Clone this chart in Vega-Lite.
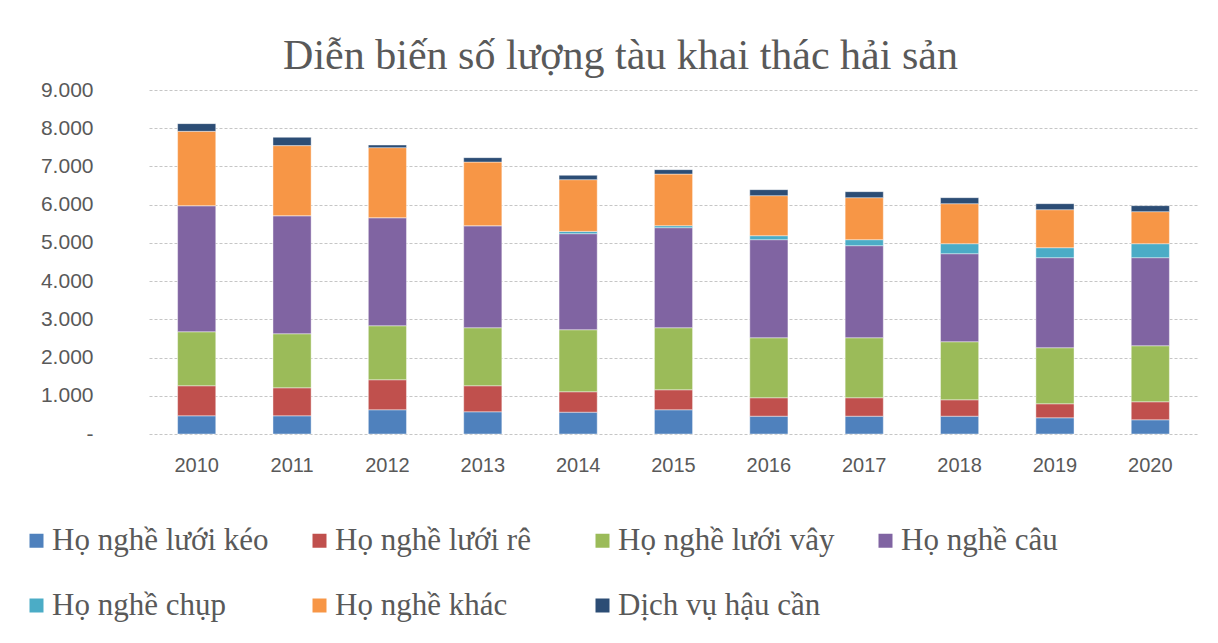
{
  "$schema": "https://vega.github.io/schema/vega-lite/v6.json",
  "width": 1049,
  "height": 344,
  "padding": {"left": 21, "top": 35, "right": 20, "bottom": 10},
  "background": "white",
  "title": {
    "text": "Diễn biến số lượng tàu khai thác hải sản",
    "font": "Liberation Serif",
    "fontSize": 42,
    "fontWeight": "normal",
    "color": "#595959",
    "anchor": "middle",
    "dx": -53,
    "offset": 1
  },
  "datasets": {
    "cats": [
      {"type": "Họ nghề lưới kéo", "rank": 1},
      {"type": "Họ nghề lưới rê", "rank": 2},
      {"type": "Họ nghề lưới vây", "rank": 3},
      {"type": "Họ nghề câu", "rank": 4},
      {"type": "Họ nghề chụp", "rank": 5},
      {"type": "Họ nghề khác", "rank": 6},
      {"type": "Dịch vụ hậu cần", "rank": 7}
    ],
    "tau": [
      {"year": "2010", "type": "Họ nghề lưới kéo", "value": 476},
      {"year": "2010", "type": "Họ nghề lưới rê", "value": 786},
      {"year": "2010", "type": "Họ nghề lưới vây", "value": 1413},
      {"year": "2010", "type": "Họ nghề câu", "value": 3299},
      {"year": "2010", "type": "Họ nghề chụp", "value": 0},
      {"year": "2010", "type": "Họ nghề khác", "value": 1945},
      {"year": "2010", "type": "Dịch vụ hậu cần", "value": 201},
      {"year": "2011", "type": "Họ nghề lưới kéo", "value": 476},
      {"year": "2011", "type": "Họ nghề lưới rê", "value": 733},
      {"year": "2011", "type": "Họ nghề lưới vây", "value": 1414},
      {"year": "2011", "type": "Họ nghề câu", "value": 3089},
      {"year": "2011", "type": "Họ nghề chụp", "value": 0},
      {"year": "2011", "type": "Họ nghề khác", "value": 1833},
      {"year": "2011", "type": "Dịch vụ hậu cần", "value": 217},
      {"year": "2012", "type": "Họ nghề lưới kéo", "value": 634},
      {"year": "2012", "type": "Họ nghề lưới rê", "value": 785},
      {"year": "2012", "type": "Họ nghề lưới vây", "value": 1413},
      {"year": "2012", "type": "Họ nghề câu", "value": 2828},
      {"year": "2012", "type": "Họ nghề chụp", "value": 0},
      {"year": "2012", "type": "Họ nghề khác", "value": 1832},
      {"year": "2012", "type": "Dịch vụ hậu cần", "value": 68},
      {"year": "2013", "type": "Họ nghề lưới kéo", "value": 581},
      {"year": "2013", "type": "Họ nghề lưới rê", "value": 681},
      {"year": "2013", "type": "Họ nghề lưới vây", "value": 1518},
      {"year": "2013", "type": "Họ nghề câu", "value": 2670},
      {"year": "2013", "type": "Họ nghề chụp", "value": 0},
      {"year": "2013", "type": "Họ nghề khác", "value": 1665},
      {"year": "2013", "type": "Dịch vụ hậu cần", "value": 115},
      {"year": "2014", "type": "Họ nghề lưới kéo", "value": 571},
      {"year": "2014", "type": "Họ nghề lưới rê", "value": 534},
      {"year": "2014", "type": "Họ nghề lưới vây", "value": 1623},
      {"year": "2014", "type": "Họ nghề câu", "value": 2513},
      {"year": "2014", "type": "Họ nghề chụp", "value": 60},
      {"year": "2014", "type": "Họ nghề khác", "value": 1353},
      {"year": "2014", "type": "Dịch vụ hậu cần", "value": 113},
      {"year": "2015", "type": "Họ nghề lưới kéo", "value": 634},
      {"year": "2015", "type": "Họ nghề lưới rê", "value": 523},
      {"year": "2015", "type": "Họ nghề lưới vây", "value": 1623},
      {"year": "2015", "type": "Họ nghề câu", "value": 2618},
      {"year": "2015", "type": "Họ nghề chụp", "value": 52},
      {"year": "2015", "type": "Họ nghề khác", "value": 1351},
      {"year": "2015", "type": "Dịch vụ hậu cần", "value": 115},
      {"year": "2016", "type": "Họ nghề lưới kéo", "value": 466},
      {"year": "2016", "type": "Họ nghề lưới rê", "value": 482},
      {"year": "2016", "type": "Họ nghề lưới vây", "value": 1570},
      {"year": "2016", "type": "Họ nghề câu", "value": 2566},
      {"year": "2016", "type": "Họ nghề chụp", "value": 104},
      {"year": "2016", "type": "Họ nghề khác", "value": 1048},
      {"year": "2016", "type": "Dịch vụ hậu cần", "value": 157},
      {"year": "2017", "type": "Họ nghề lưới kéo", "value": 466},
      {"year": "2017", "type": "Họ nghề lưới rê", "value": 482},
      {"year": "2017", "type": "Họ nghề lưới vây", "value": 1570},
      {"year": "2017", "type": "Họ nghề câu", "value": 2409},
      {"year": "2017", "type": "Họ nghề chụp", "value": 157},
      {"year": "2017", "type": "Họ nghề khác", "value": 1099},
      {"year": "2017", "type": "Dịch vụ hậu cần", "value": 157},
      {"year": "2018", "type": "Họ nghề lưới kéo", "value": 466},
      {"year": "2018", "type": "Họ nghề lưới rê", "value": 429},
      {"year": "2018", "type": "Họ nghề lưới vây", "value": 1519},
      {"year": "2018", "type": "Họ nghề câu", "value": 2303},
      {"year": "2018", "type": "Họ nghề chụp", "value": 262},
      {"year": "2018", "type": "Họ nghề khác", "value": 1047},
      {"year": "2018", "type": "Dịch vụ hậu cần", "value": 157},
      {"year": "2019", "type": "Họ nghề lưới kéo", "value": 424},
      {"year": "2019", "type": "Họ nghề lưới rê", "value": 367},
      {"year": "2019", "type": "Họ nghề lưới vây", "value": 1466},
      {"year": "2019", "type": "Họ nghề câu", "value": 2356},
      {"year": "2019", "type": "Họ nghề chụp", "value": 261},
      {"year": "2019", "type": "Họ nghề khác", "value": 995},
      {"year": "2019", "type": "Dịch vụ hậu cần", "value": 157},
      {"year": "2020", "type": "Họ nghề lưới kéo", "value": 372},
      {"year": "2020", "type": "Họ nghề lưới rê", "value": 471},
      {"year": "2020", "type": "Họ nghề lưới vây", "value": 1466},
      {"year": "2020", "type": "Họ nghề câu", "value": 2304},
      {"year": "2020", "type": "Họ nghề chụp", "value": 366},
      {"year": "2020", "type": "Họ nghề khác", "value": 838},
      {"year": "2020", "type": "Dịch vụ hậu cần", "value": 157}
    ]
  },
  "data": {"name": "tau"},
  "transform": [
    {"lookup": "type", "from": {"data": {"name": "cats"}, "key": "type", "fields": ["rank"]}}
  ],
  "mark": {"type": "bar", "stroke": "#ffffff", "strokeWidth": 0.6, "strokeOpacity": 0.7},
  "encoding": {
    "x": {
      "field": "year",
      "type": "ordinal",
      "scale": {"paddingInner": 0.6, "paddingOuter": 0.3},
      "axis": {
        "title": null,
        "labelAngle": 0,
        "domain": false,
        "ticks": false,
        "labelPadding": 21,
        "labelFont": "Liberation Sans",
        "labelFontSize": 20,
        "labelColor": "#595959"
      }
    },
    "y": {
      "field": "value",
      "type": "quantitative",
      "stack": "zero",
      "scale": {"domain": [0, 9000], "nice": false},
      "axis": {
        "title": null,
        "values": [0, 1000, 2000, 3000, 4000, 5000, 6000, 7000, 8000, 9000],
        "labelExpr": "datum.value == 0 ? '-' : replace(format(datum.value, ','), ',', '.')",
        "domain": false,
        "ticks": false,
        "labelPadding": 56,
        "labelFont": "Liberation Sans",
        "labelFontSize": 21,
        "labelColor": "#595959",
        "gridColor": "#c6c6c6",
        "gridDash": [3, 2],
        "gridWidth": 1
      }
    },
    "order": {"field": "rank", "type": "quantitative", "sort": "ascending"},
    "color": {
      "field": "type",
      "type": "nominal",
      "sort": ["Họ nghề lưới kéo", "Họ nghề lưới rê", "Họ nghề lưới vây", "Họ nghề câu", "Họ nghề chụp", "Họ nghề khác", "Dịch vụ hậu cần"],
      "scale": {
        "domain": ["Họ nghề lưới kéo", "Họ nghề lưới rê", "Họ nghề lưới vây", "Họ nghề câu", "Họ nghề chụp", "Họ nghề khác", "Dịch vụ hậu cần"],
        "range": ["#4F81BD", "#C0504D", "#9BBB59", "#8064A2", "#4BACC6", "#F79646", "#2C4D75"]
      },
      "legend": {
        "title": null,
        "orient": "none",
        "legendX": -128,
        "legendY": 435,
        "direction": "horizontal",
        "columns": 4,
        "gridAlign": "all",
        "symbolType": "square",
        "symbolSize": 196,
        "symbolStrokeWidth": 0,
        "labelFont": "Liberation Serif",
        "labelFontSize": 31,
        "labelColor": "#595959",
        "labelLimit": 700,
        "labelOffset": 0,
        "columnPadding": 35,
        "rowPadding": 33
      }
    }
  },
  "config": {
    "view": {"stroke": null}
  }
}
